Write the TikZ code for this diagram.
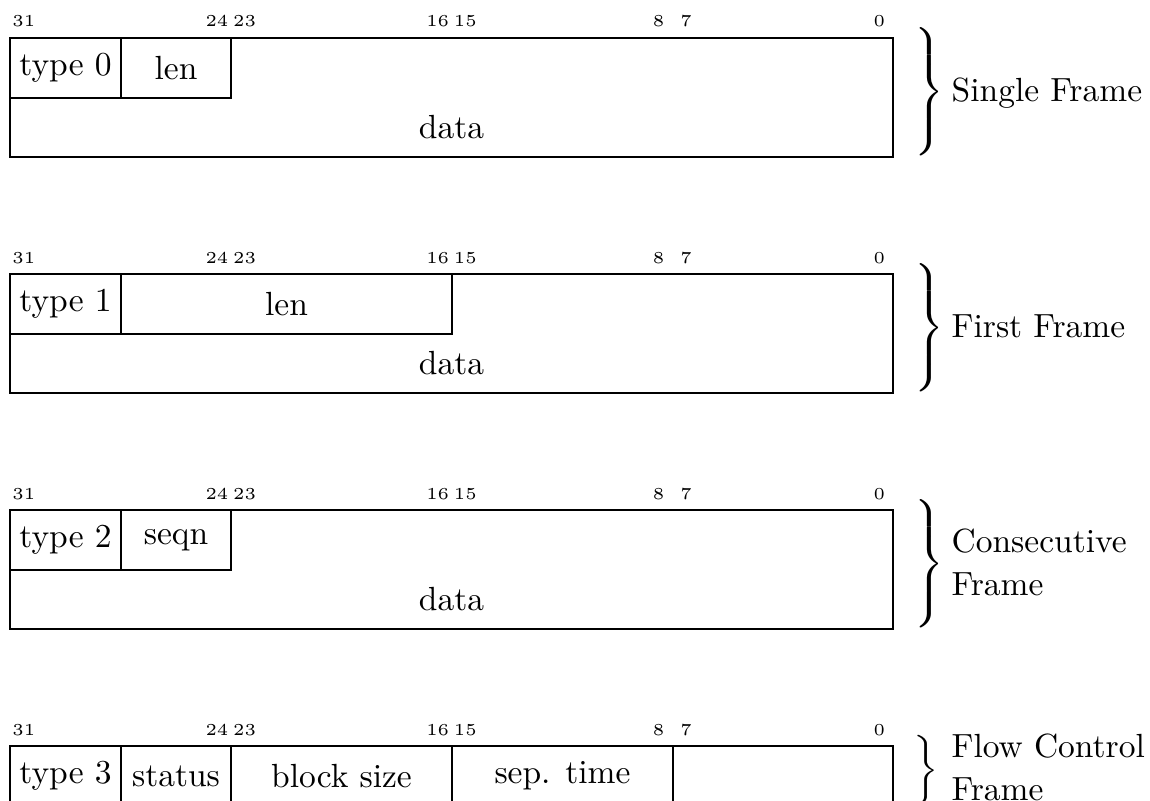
\documentclass[tikz,border=0pt]{standalone}
\usepackage{graphicx}
\newcommand\FrBrace[1]{\scalebox{1}[0.91]{$\delimiterfactor=1000\delimitershortfall=0pt\left.\vcenter{\hrule height #1 width 0pt}\right\}$}}
\tikzset{
  cell/.style={draw=black, line width=0.4pt},
  celltext/.style={inner sep=0pt, anchor=center},
  bitlabel/.style={font=\tiny, inner sep=0pt, anchor=base},
  bracenode/.style={inner sep=0pt, anchor=center},
  frametext/.style={inner sep=0pt, anchor=west},
}
\newcommand\BitLabels[2]{%
  \foreach \b in {31,24,23,16,15,8,7,0}
    \node[bitlabel] (#1b\b) at ({10+(31.5-\b)*27.594}, #2-11) {\b};
}
\begin{document}
\begin{tikzpicture}[x=0.29851pt, y=-0.29851pt]
\useasboundingbox (0,0) rectangle (1150,801);
\clip (0,0) rectangle (1150,801);

% ---------- Single Frame ----------
\BitLabels{f1}{38}
\draw[cell] (10,38) rectangle (893,157);
\draw[cell] (10,38) rectangle (121,98);
\draw[cell] (121,38) rectangle (231,98);
\node[celltext] (f1type) at (65.5,68) {type 0};
\node[celltext] (f1len) at (176,68) {len};
\node[celltext] (f1data) at (451.5,127.5) {data};
\node[bracenode] (f1brace) at (927.5,92) {\FrBrace{37.5pt}};
\node[frametext] (f1name) at (951,93) {\begin{tabular}{@{}l@{}}Single Frame\end{tabular}};

% ---------- First Frame ----------
\BitLabels{f2}{274}
\draw[cell] (10,274) rectangle (893,393);
\draw[cell] (10,274) rectangle (121,334);
\draw[cell] (121,274) rectangle (452,334);
\node[celltext] (f2type) at (65.5,304) {type 1};
\node[celltext] (f2len) at (286.5,304) {len};
\node[celltext] (f2data) at (451.5,363.5) {data};
\node[bracenode] (f2brace) at (927.5,328) {\FrBrace{37.5pt}};
\node[frametext] (f2name) at (951,329) {\begin{tabular}{@{}l@{}}First Frame\end{tabular}};

% ---------- Consecutive Frame ----------
\BitLabels{f3}{510}
\draw[cell] (10,510) rectangle (893,629);
\draw[cell] (10,510) rectangle (121,570);
\draw[cell] (121,510) rectangle (231,570);
\node[celltext] (f3type) at (65.5,540) {type 2};
\node[celltext] (f3seqn) at (176,540) {seqn};
\node[celltext] (f3data) at (451.5,599.5) {data};
\node[bracenode] (f3brace) at (927.5,564) {\FrBrace{37.5pt}};
\node[frametext] (f3name) at (951,565) {\def\arraystretch{1.07}\begin{tabular}{@{}l@{}}Consecutive\\Frame\end{tabular}};

% ---------- Flow Control Frame ----------
\BitLabels{f4}{746}
\draw[cell] (10,746) rectangle (893,806);
\draw[cell] (121,746) -- (121,806);
\draw[cell] (231,746) -- (231,806);
\draw[cell] (452,746) -- (452,806);
\draw[cell] (673,746) -- (673,806);
\node[celltext] (f4type) at (65.5,776) {type 3};
\node[celltext] (f4status) at (176,776) {status};
\node[celltext] (f4block) at (341.5,776) {block size};
\node[celltext] (f4sep) at (562.5,776) {sep. time};
\node[bracenode] (f4brace) at (926,770.5) {\scalebox{1}[0.88]{$\biggr\}$}};
\node[frametext] (f4name) at (951,770.5) {\def\arraystretch{1.07}\begin{tabular}{@{}l@{}}Flow Control\\Frame\end{tabular}};
\end{tikzpicture}
\end{document}
